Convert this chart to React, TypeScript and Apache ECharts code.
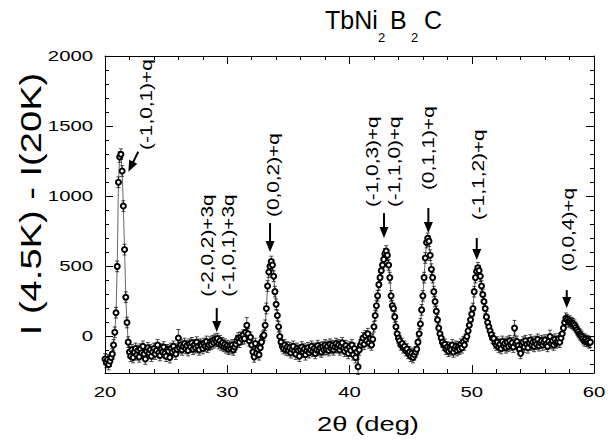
import React, { useEffect, useRef } from "react";
import * as echarts from "echarts";

// ---------------- data ----------------
const twoThetaStart = 20.0; // deg, first measured point
const twoThetaStep = 0.1; // deg, measurement step

// I(4.5K) - I(20K), one value per step from 20.0 deg
const intensity: number[] = [
  -160, -185, -165, -200, -175, -150, -125, -60, 30, 170, // 20.x
  500, 1100, 1280, 1300, 1180, 930, 620, 280, 100, -40, // 21.x
  -110, -140, -95, -150, -110, -85, -130, -100, -145, -90, // 22.x
  -115, -70, -125, -160, -105, -80, -120, -95, -140, -110, // 23.x
  -85, -125, -100, -60, -115, -135, -90, -110, -75, -120, // 24.x
  -140, -95, -105, -150, -85, -110, -70, -100, -125, -90, // 25.x
  -10, -80, -60, -95, -70, -50, -85, -65, -100, -55, // 26.x
  -75, -45, -90, -60, -80, -40, -70, -95, -55, -65, // 27.x
  -85, -50, -70, -35, -75, -60, -40, -55, -30, -45, // 28.x
  -20, -35, -15, -50, -30, -60, -45, -70, -55, -80, // 29.x
  -65, -90, -70, -85, -60, -95, -75, -55, -30, -10, // 30.x
  -40, -5, -20, 10, -15, 30, 80, 20, -30, -5, // 31.x
  -60, -110, -145, -50, -120, -90, -130, -80, -40, 0, // 32.x
  10, 80, 200, 360, 460, 500, 535, 510, 430, 320, // 33.x
  230, 150, 70, 0, -40, -70, -85, -60, -95, -75, // 34.x
  -100, -80, -115, -90, -70, -105, -125, -85, -100, -140, // 35.x
  -95, -75, -110, -90, -130, -100, -80, -115, -95, -70, // 36.x
  -105, -85, -120, -95, -65, -100, -80, -110, -75, -95, // 37.x
  -60, -90, -70, -100, -55, -85, -65, -95, -75, -50, // 38.x
  -80, -60, -95, -70, -45, -85, -105, -65, -90, -120, // 39.x
  -75, -100, -60, -130, -85, -150, -110, -215, -95, -60, // 40.x
  -40, -10, -55, 5, -30, 20, -45, -15, -60, -20, // 41.x
  70, 150, 220, 290, 370, 420, 470, 510, 550, 590, // 42.x
  610, 580, 510, 420, 290, 220, 200, 140, 70, 20, // 43.x
  -10, -30, -60, -50, -80, -70, -100, -90, -120, -110, // 44.x
  -140, -120, -150, -130, -110, -90, -40, 20, 90, 190, // 45.x
  290, 420, 560, 670, 700, 680, 580, 480, 420, 320, // 46.x
  250, 180, 120, 60, 20, -10, -40, -60, -55, -90, // 47.x
  -75, -105, -80, -95, -60, -110, -85, -70, -100, -75, // 48.x
  -90, -55, -80, -40, -60, -20, 0, 40, 80, 120, // 49.x
  160, 200, 320, 420, 465, 490, 470, 430, 360, 300, // 50.x
  250, 200, 140, 100, 70, 40, 15, -10, -15, -45, // 51.x
  -60, -40, -75, -55, -85, -35, -65, -50, -80, -40, // 52.x
  -70, -30, -60, -45, -75, 60, -50, -35, -65, -90, // 53.x
  -120, -60, -40, -75, -30, -55, -80, -45, -25, -60, // 54.x
  -40, -70, -35, -55, -20, -65, -45, -30, -60, -40, // 55.x
  -25, -55, -70, -35, 0, -50, -30, -60, -20, -45, // 56.x
  -35, -15, -40, -10, 20, 60, 100, 130, 120, 105, // 57.x
  110, 100, 95, 90, 80, 65, 50, 35, 20, 10, // 58.x
  0, -15, -30, -20, -35, -30, -45, -40, // 59.x
];

const typicalError = 38; // half length of most error bars
const largerErrors: [number, number][] = [
  [26.0, 60],
  [31.6, 55],
  [40.7, 55],
  [53.5, 55],
  [56.4, 45],
];

const X_MIN = 20;
const X_MAX = 60;
const Y_MIN = -260;
const Y_MAX = 2000;
const xTickValues = [20, 30, 40, 50, 60];
const yTickValues = [0, 500, 1000, 1500, 2000];
const yMinorTickValues = [
  -200, -100, 100, 200, 300, 400, 600, 700, 800, 900, 1100, 1200, 1300, 1400,
  1600, 1700, 1800, 1900,
];

// peak labels (reflection indices)
const peakLabels = [
  "(-1,0,1)+q",
  "(-2,0,2)+3q",
  "(-1,0,1)+3q",
  "(0,0,2)+q",
  "(-1,0,3)+q",
  "(-1,1,0)+q",
  "(0,1,1)+q",
  "(-1,1,2)+q",
  "(0,0,4)+q",
];

// ---------------- placement (data coordinates) ----------------
// each label: [x of text centre line, y of text start (bottom)]
const labelPlacement: [number, number][] = [
  [23.41, 1330],
  [28.37, 284],
  [30.09, 284],
  [33.77, 852],
  [41.84, 923],
  [43.64, 923],
  [46.45, 1044],
  [50.54, 830],
  [57.9, 462],
];
// arrows: [x0, y0, x1, y1], tip at (x1, y1)
const arrowPlacement: [number, number, number, number][] = [
  [22.72, 1317, 21.91, 1175],
  [29.14, 203, 29.14, 32],
  [33.5, 809, 33.5, 602],
  [42.82, 880, 42.82, 702],
  [46.45, 916, 46.45, 738],
  [50.41, 702, 50.41, 545],
  [57.77, 331, 57.77, 203],
];

const FONT = "'Liberation Sans', Arial, Helvetica, sans-serif";

function buildOption() {
  const points = intensity.map((y, i) => [
    Math.round((twoThetaStart + i * twoThetaStep) * 100) / 100,
    y,
  ]);
  const errorData = points.map(([x, y]) => {
    const big = largerErrors.find((e) => Math.abs(e[0] - x) < 0.001);
    const e = big ? big[1] : typicalError;
    return [x, y - e, y + e];
  });

  const axisCommonX = {
    type: "value",
    min: X_MIN,
    max: X_MAX,
    interval: 10,
    axisLine: { show: true, onZero: false, lineStyle: { color: "#000", width: 1 } },
    axisTick: { show: true, inside: true, length: 8, lineStyle: { color: "#000", width: 1 } },
    minorTick: { show: true, splitNumber: 5, length: 4, lineStyle: { color: "#000", width: 1 } },
    axisLabel: { show: false },
    splitLine: { show: false },
    minorSplitLine: { show: false },
  };
  const majorY = (position: string) => ({
    type: "value",
    position,
    offset: 0,
    min: Y_MIN,
    max: Y_MAX,
    axisLine: { show: true, onZero: false, lineStyle: { color: "#000", width: 1 } },
    axisTick: {
      show: true,
      inside: true,
      length: 8,
      customValues: yTickValues,
      lineStyle: { color: "#000", width: 1 },
    },
    axisLabel: { show: false },
    splitLine: { show: false },
  });
  const minorY = (position: string) => ({
    type: "value",
    position,
    offset: 0,
    min: Y_MIN,
    max: Y_MAX,
    axisLine: { show: false, onZero: false },
    axisTick: {
      show: true,
      inside: true,
      length: 4,
      customValues: yMinorTickValues,
      lineStyle: { color: "#000", width: 1 },
    },
    axisLabel: { show: false },
    splitLine: { show: false },
  });

  return {
    animation: false,
    backgroundColor: "#fff",
    grid: { left: 105, right: 14, top: 56, bottom: 72, containLabel: false },
    xAxis: [
      { ...axisCommonX, position: "bottom" },
      { ...axisCommonX, position: "top" },
    ],
    yAxis: [majorY("left"), minorY("left"), majorY("right"), minorY("right")],
    graphic: [
      {
        type: "text",
        x: 31,
        y: 204,
        rotation: Math.PI / 2,
        scaleX: 1.27,
        style: {
          text: "I (4.5K) - I(20K)",
          font: `30px ${FONT}`,
          fill: "#000",
          align: "center",
          verticalAlign: "middle",
        },
      },
      {
        type: "text",
        x: 368,
        y: 424,
        scaleX: 1.37,
        style: {
          text: "2θ (deg)",
          font: `20px ${FONT}`,
          fill: "#000",
          align: "center",
          verticalAlign: "middle",
        },
      },
      {
        type: "group",
        children: [
          { type: "text", x: 325, y: 20, style: { text: "TbNi", font: `25px ${FONT}`, fill: "#000", align: "left", verticalAlign: "middle" } },
          { type: "text", x: 378, y: 37, style: { text: "2", font: `13px ${FONT}`, fill: "#000", align: "left", verticalAlign: "middle" } },
          { type: "text", x: 390, y: 20, style: { text: "B", font: `25px ${FONT}`, fill: "#000", align: "left", verticalAlign: "middle" } },
          { type: "text", x: 411, y: 37, style: { text: "2", font: `13px ${FONT}`, fill: "#000", align: "left", verticalAlign: "middle" } },
          { type: "text", x: 424, y: 20, style: { text: "C", font: `25px ${FONT}`, fill: "#000", align: "left", verticalAlign: "middle" } },
        ],
      },
    ],
    series: [
      {
        type: "custom",
        name: "errors",
        xAxisIndex: 0,
        yAxisIndex: 0,
        silent: true,
        encode: { x: 0, y: [1, 2] },
        data: errorData,
        z: 2,
        renderItem: (params: any, api: any) => {
          const x = api.value(0);
          const lo = api.coord([x, api.value(1)]);
          const hi = api.coord([x, api.value(2)]);
          const c = 2;
          const st = { stroke: "#000", lineWidth: 0.7 };
          return {
            type: "group",
            children: [
              { type: "line", shape: { x1: lo[0], y1: lo[1], x2: hi[0], y2: hi[1] }, style: st },
              { type: "line", shape: { x1: lo[0] - c, y1: lo[1], x2: lo[0] + c, y2: lo[1] }, style: st },
              { type: "line", shape: { x1: hi[0] - c, y1: hi[1], x2: hi[0] + c, y2: hi[1] }, style: st },
            ],
          };
        },
      },
      {
        type: "line",
        name: "data",
        xAxisIndex: 0,
        yAxisIndex: 0,
        data: points,
        z: 3,
        symbol: "emptyCircle",
        symbolSize: 5,
        showSymbol: true,
        showAllSymbol: true,
        silent: true,
        lineStyle: { color: "#000", width: 0.6 },
        itemStyle: { color: "#000", borderColor: "#000", borderWidth: 0.6 },
      },
      {
        type: "custom",
        name: "arrows",
        xAxisIndex: 0,
        yAxisIndex: 0,
        silent: true,
        z: 4,
        data: arrowPlacement.map((a) => [a[0], a[1], a[2], a[3]]),
        encode: { x: [0, 2], y: [1, 3] },
        renderItem: (params: any, api: any) => {
          const p0 = api.coord([api.value(0), api.value(1)]);
          const p1 = api.coord([api.value(2), api.value(3)]);
          const dx = p1[0] - p0[0];
          const dy = p1[1] - p0[1];
          const len = Math.hypot(dx, dy) || 1;
          const ux = dx / len;
          const uy = dy / len;
          const headLen = 11;
          const half = 4.5;
          const bx = p1[0] - ux * headLen;
          const by = p1[1] - uy * headLen;
          return {
            type: "group",
            children: [
              {
                type: "line",
                shape: { x1: p0[0], y1: p0[1], x2: bx + ux * 2, y2: by + uy * 2 },
                style: { stroke: "#000", lineWidth: 2 },
              },
              {
                type: "polygon",
                shape: {
                  points: [
                    [p1[0], p1[1]],
                    [bx - uy * half, by + ux * half],
                    [bx + uy * half, by - ux * half],
                  ],
                },
                style: { fill: "#000" },
              },
            ],
          };
        },
      },
      {
        type: "custom",
        name: "labels",
        xAxisIndex: 0,
        yAxisIndex: 0,
        silent: true,
        z: 5,
        data: labelPlacement.map((p, i) => [p[0], p[1], i]),
        encode: { x: 0, y: 1 },
        renderItem: (params: any, api: any) => {
          const p = api.coord([api.value(0), api.value(1)]);
          return {
            type: "text",
            x: p[0],
            y: p[1],
            rotation: Math.PI / 2,
            scaleX: 1.3,
            style: {
              text: peakLabels[params.dataIndex],
              font: `16px ${FONT}`,
              fill: "#000",
              align: "left",
              verticalAlign: "middle",
            },
          };
        },
      },
      {
        type: "custom",
        name: "xTickLabels",
        xAxisIndex: 0,
        yAxisIndex: 0,
        silent: true,
        data: xTickValues.map((v) => [v, Y_MIN]),
        encode: { x: 0, y: 1 },
        renderItem: (params: any, api: any) => {
          const p = api.coord([api.value(0), api.value(1)]);
          return {
            type: "text",
            x: p[0],
            y: p[1] + 19.5,
            scaleX: 1.4,
            style: {
              text: String(xTickValues[params.dataIndex]),
              font: `14.5px ${FONT}`,
              fill: "#000",
              align: "center",
              verticalAlign: "middle",
            },
          };
        },
      },
      {
        type: "custom",
        name: "yTickLabels",
        xAxisIndex: 0,
        yAxisIndex: 0,
        silent: true,
        data: yTickValues.map((v) => [X_MIN, v]),
        encode: { x: 0, y: 1 },
        renderItem: (params: any, api: any) => {
          const p = api.coord([api.value(0), api.value(1)]);
          return {
            type: "text",
            x: p[0] - 12,
            y: p[1],
            scaleX: 1.4,
            style: {
              text: String(yTickValues[params.dataIndex]),
              font: `14.5px ${FONT}`,
              fill: "#000",
              align: "right",
              verticalAlign: "middle",
            },
          };
        },
      },
    ],
  };
}

export default function App() {
  const ref = useRef<HTMLDivElement>(null);
  useEffect(() => {
    if (!ref.current) return;
    const chart = echarts.init(ref.current, null, { renderer: "svg" });
    chart.setOption(buildOption() as any);
    return () => chart.dispose();
  }, []);
  return (
    <div
      ref={ref}
      style={{ position: "fixed", left: 0, top: 0, width: 608, height: 445, background: "#fff" }}
    />
  );
}
